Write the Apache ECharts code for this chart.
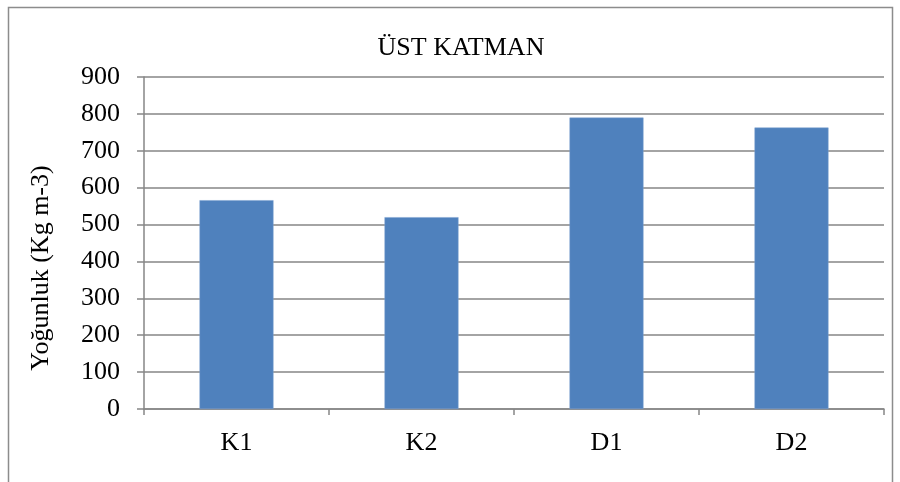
<!DOCTYPE html>
<html>
<head>
<meta charset="utf-8">
<script src="https://cdn.jsdelivr.net/npm/echarts@6/dist/echarts.min.js"></script>
<style>
  html, body { margin: 0; padding: 0; background: #fff; }
  #main { width: 900px; height: 482px; }
</style>
</head>
<body>
<div id="main"></div>
<script>
var categories = ['K1', 'K2', 'D1', 'D2'];
var values = [566, 520, 790, 763];
var yTicks = [0, 100, 200, 300, 400, 500, 600, 700, 800, 900];

var chart = echarts.init(document.getElementById('main'));

var font = '"Liberation Serif", "Times New Roman", serif';

var option = {
    animation: false,
    textStyle: { fontFamily: font },
    title: {
        text: 'ÜST KATMAN',
        left: 456,
        top: 30,
        textAlign: 'center',
        textStyle: { fontFamily: font, fontSize: 26, fontWeight: 'normal', color: '#000' }
    },
    graphic: [{
        type: 'rect',
        shape: { x: 8.5, y: 7.5, width: 884, height: 490 },
        style: { fill: 'none', stroke: '#8c8c8c', lineWidth: 1.5 },
        silent: true
    }],
    grid: { left: 144, right: 16, top: 77, bottom: 73 },
    xAxis: {
        type: 'category',
        data: categories,
        axisLine: { lineStyle: { color: '#868686', width: 1.5 } },
        axisTick: { show: true, length: 6, alignWithLabel: false, lineStyle: { color: '#868686', width: 1.5 } },
        axisLabel: { color: '#000', fontSize: 26, margin: 21, fontFamily: font }
    },
    yAxis: {
        type: 'value',
        min: yTicks[0],
        max: yTicks[yTicks.length - 1],
        interval: 100,
        name: 'Yoğunluk (Kg m-3)',
        nameLocation: 'middle',
        nameGap: 90,
        nameRotate: 90,
        nameTextStyle: { color: '#000', fontSize: 26, fontFamily: font, padding: [0, 50, 0, 0] },
        axisLine: { show: true, lineStyle: { color: '#868686', width: 1.5 } },
        axisTick: { show: true, length: 7, lineStyle: { color: '#868686', width: 1.5 } },
        axisLabel: { color: '#000', fontSize: 26, margin: 24, fontFamily: font },
        splitLine: { lineStyle: { color: '#868686', width: 1.5 } }
    },
    series: [{
        type: 'bar',
        data: values,
        barCategoryGap: '60%',
        itemStyle: { color: '#4F81BD', borderColor: '#7ea3d0', borderWidth: 0.5 }
    }]
};

chart.setOption(option);
</script>
</body>
</html>
